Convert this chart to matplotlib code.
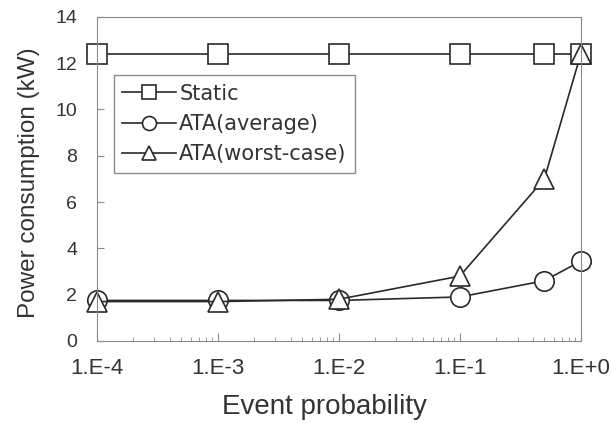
import matplotlib
matplotlib.use("Agg")
import matplotlib.pyplot as plt
from matplotlib.ticker import FixedLocator, LogLocator, NullFormatter

plt.rcParams['font.family'] = ['Liberation Sans', 'DejaVu Sans']

# data
prob = [1e-4, 1e-3, 1e-2, 1e-1, 0.5, 1.0]
tick_labels = ["1.E-4", "1.E-3", "1.E-2", "1.E-1", "1.E+0"]
static = [12.4, 12.4, 12.4, 12.4, 12.4, 12.4]
ata_avg = [1.75, 1.75, 1.75, 1.9, 2.6, 3.45]
ata_worst = [1.7, 1.7, 1.8, 2.8, 7.0, 12.4]

fig = plt.figure(figsize=(6.12, 4.23), dpi=100)
ax = fig.add_axes([0.158, 0.194, 0.791, 0.766])

line_kw = dict(color="#2a2a2a", lw=1.2, mfc="white", mec="#2a2a2a", mew=1.2, clip_on=False)
ax.plot(prob, static, marker="s", ms=14, label="Static", **line_kw)
ax.plot(prob, ata_avg, marker="o", ms=14, label="ATA(average)", **line_kw)
ax.plot(prob, ata_worst, marker="^", ms=14, label="ATA(worst-case)", **line_kw)

ax.set_xscale("log")
ax.set_xlim(1e-4, 1)
ax.set_ylim(0, 14)
ax.xaxis.set_major_locator(FixedLocator([1e-4, 1e-3, 1e-2, 1e-1, 1]))
ax.set_xticklabels(tick_labels)
ax.xaxis.set_minor_locator(LogLocator(base=10, subs=range(2, 10)))
ax.xaxis.set_minor_formatter(NullFormatter())
ax.set_yticks(range(0, 15, 2))

for s in ax.spines.values():
    s.set_color("#8a8a8a")
ax.tick_params(axis="both", which="both", direction="in", colors="#8a8a8a",
               labelcolor="#333333")
ax.tick_params(axis="x", which="major", length=6, pad=12, labelsize=16)
ax.tick_params(axis="x", which="minor", length=3)
ax.tick_params(axis="y", length=5, pad=14, labelsize=14)

ax.set_xlabel("Event probability", fontsize=20, color="#333333")
ax.xaxis.set_label_coords(0.471, -0.165)
ax.set_ylabel("Power consumption (kW)", fontsize=17.5, color="#333333")
ax.yaxis.set_label_coords(-0.118, 0.488)

leg = ax.legend(loc="upper left", bbox_to_anchor=(0.035, 0.82),
                prop={"family": "DejaVu Sans", "size": 15},
                handlelength=2.6, fancybox=False, framealpha=1, borderpad=0.4,
                labelspacing=0.5, handletextpad=0.15, markerscale=0.72,
                borderaxespad=0)
leg.get_frame().set_edgecolor("#8a8a8a")
for t in leg.get_texts():
    t.set_color("#333333")

fig.savefig("out.png", dpi=100)
